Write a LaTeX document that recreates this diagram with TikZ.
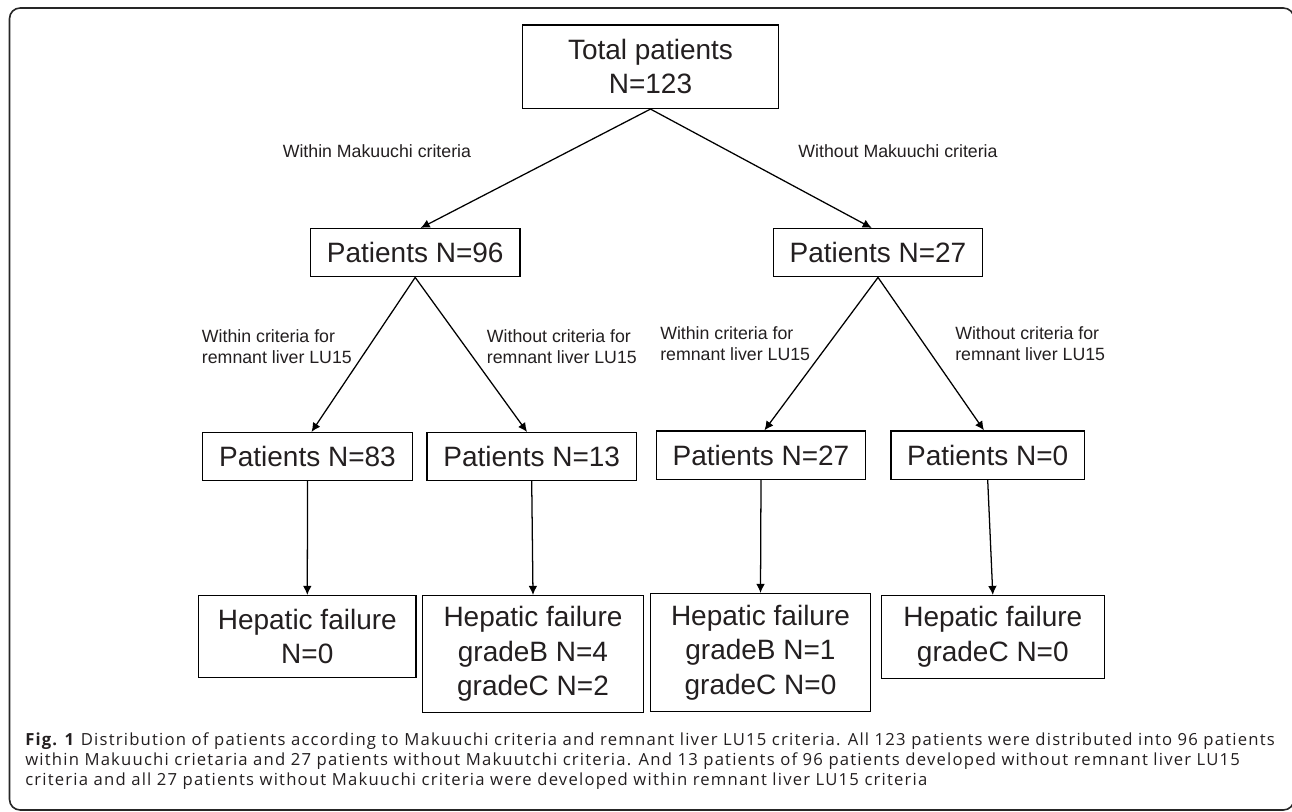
\documentclass[tikz,border=0pt]{standalone}
\usepackage{fontspec}
\setmainfont{Liberation Sans}
\newfontfamily\capfont[LetterSpace=7.2]{Open Sans}
\usetikzlibrary{arrows.meta}
\definecolor{txt}{HTML}{231F20}
\begin{document}
\begin{tikzpicture}[x=0.75pt,y=-0.75pt,
  bx/.style n args={2}{draw=black, line width=1.1pt, minimum width=#1*0.75pt, minimum height=#2*0.75pt, inner sep=0pt, align=center, font=\fontsize{21}{25.9}\selectfont, text=txt},
  lbl/.style={inner sep=0pt, font=\fontsize{13.3}{15.75}\selectfont, text=txt},
  capline/.style={anchor=base west, inner sep=0pt, text=txt, font=\capfont\fontsize{12.5}{15}\selectfont},
  arr/.style={line width=0.95pt, draw=black, -{Latex[length=6.8pt,width=6.5pt]}},
]
\useasboundingbox (0,0) rectangle (1292,812);
\fill[white] (0,0) rectangle (1292,812);
\draw[line width=1.2pt, draw=black!85, rounded corners=8pt] (9.5,8) rectangle (1294,810);

% boxes
\node[bx={256}{83.3}] (top) at (650.5,66.7) {Total patients\\N=123};
\node[bx={209.7}{48}] (p96) at (415.2,252.7) {Patients N=96};
\node[bx={209.4}{48}] (p27a) at (878,252.7) {Patients N=27};
\node[bx={209.6}{47.6}] (p83) at (307.5,456.5) {Patients N=83};
\node[bx={209.3}{47.6}] (p13) at (531.7,456.5) {Patients N=13};
\node[bx={209.4}{48.3}] (p27b) at (761,455.2) {Patients N=27};
\node[bx={193.3}{48.3}] (p0) at (987.7,455.2) {Patients N=0};
\node[bx={217.3}{82}] (h1) at (307.3,636.7) {Hepatic failure\\N=0};
\node[bx={220.6}{117}] (h2) at (533,654.2) {Hepatic failure\\gradeB N=4\\gradeC N=2};
\node[bx={220.4}{118}] (h3) at (760.5,652.7) {Hepatic failure\\gradeB N=1\\gradeC N=0};
\node[bx={223}{82.6}] (h4) at (992.8,637) {Hepatic failure\\gradeC N=0};

% labels
\node[lbl, anchor=base] (lm1) at (376.9,157.3) {Within Makuuchi criteria};
\node[lbl, anchor=base] (lm2) at (898,157.3) {Without Makuuchi criteria};
\node[lbl, anchor=north west, align=left] (l1) at (201.7,329) {Within criteria for\\remnant liver LU15};
\node[lbl, anchor=north west, align=left] (l2) at (486.7,329) {Without criteria for\\remnant liver LU15};
\node[lbl, anchor=north west, align=left] (l3) at (660,326.7) {Within criteria for\\remnant liver LU15};
\node[lbl, anchor=north west, align=left] (l4) at (955,326.7) {Without criteria for\\remnant liver LU15};

% connectors
\draw[arr] (top.south) -- ([xshift=4.1pt]p96.north);
\draw[arr] (top.south) -- ([xshift=-4.7pt]p27a.north);
\draw[arr] (p96.south) -- ([xshift=3pt]p83.north);
\draw[arr] (p96.south) -- ([xshift=-3.5pt]p13.north);
\draw[arr] (p27a.south) -- ([xshift=2.6pt]p27b.north);
\draw[arr] (p27a.south) -- ([xshift=-2.8pt]p0.north);
\draw[arr] (p83.south) -- (h1.north);
\draw[arr] (p13.south) -- (h2.north);
\draw[arr] (p27b.south) -- (h3.north);
\draw[arr] (p0.south) -- (h4.north);

% caption
\node[capline] (cap1) at (25,745) {\textbf{Fig. 1} Distribution of patients according to Makuuchi criteria and remnant liver LU15 criteria. All 123 patients were distributed into 96 patients};
\node[capline] (cap2) at (25,765) {within Makuuchi crietaria and 27 patients without Makuutchi criteria. And 13 patients of 96 patients developed without remnant liver LU15};
\node[capline] (cap3) at (25,785) {criteria and all 27 patients without Makuuchi criteria were developed within remnant liver LU15 criteria};
\end{tikzpicture}
\end{document}
